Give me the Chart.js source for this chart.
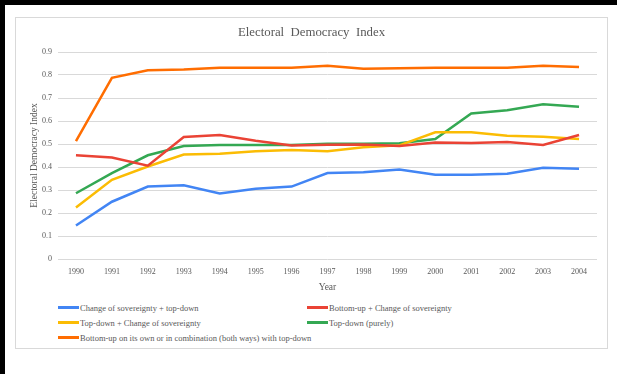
<!DOCTYPE html>
<html>
<head>
<meta charset="utf-8">
<script src="https://cdn.jsdelivr.net/npm/chart.js@4.4.1/dist/chart.umd.min.js"></script>
<style>
    body {
        margin: 0;
        width: 617px;
        height: 374px;
        background: #fff;
        position: relative;
        overflow: hidden;
        font-family: "Liberation Serif", "Times New Roman", serif;
    }
    .frame-top { position: absolute; left: 0; top: 0; width: 617px; height: 5px; background: #000; }
    .frame-left { position: absolute; left: 0; top: 0; width: 5px; height: 374px; background: #000; }
    #chartBox {
        position: absolute;
        left: 15px;
        top: 17px;
        width: 591px;
        height: 330px;
        border: 1px solid #d9d9d9;
    }
    #chartWrap {
        position: absolute;
        left: 0;
        top: 0;
        width: 591px;
        height: 282px;
    }
    #legend {
        position: absolute;
        left: 42px;
        top: 282px;
        display: grid;
        grid-template-columns: 249px 260px;
        font-size: 8.5px;
        color: #595959;
    }
    .legend-item { display: flex; align-items: center; height: 15px; white-space: nowrap; }
    .legend-line { flex: 0 0 auto; width: 21px; height: 3px; margin-right: 1px; }
</style>
</head>
<body>
<div class="frame-top"></div>
<div class="frame-left"></div>
<div id="chartBox">
    <div id="chartWrap"><canvas id="democracyChart"></canvas></div>
    <div id="legend"></div>
</div>
<script>
const years = ['1990', '1991', '1992', '1993', '1994', '1995', '1996', '1997', '1998', '1999', '2000', '2001', '2002', '2003', '2004'];

const sovereigntyTopDown = [0.146, 0.249, 0.315, 0.321, 0.285, 0.305, 0.315, 0.374, 0.377, 0.389, 0.366, 0.366, 0.371, 0.397, 0.392];
const bottomUpSovereignty = [0.451, 0.441, 0.406, 0.530, 0.539, 0.514, 0.494, 0.497, 0.498, 0.491, 0.507, 0.504, 0.509, 0.496, 0.539];
const topDownSovereignty = [0.224, 0.344, 0.402, 0.454, 0.458, 0.468, 0.474, 0.468, 0.486, 0.494, 0.551, 0.551, 0.536, 0.532, 0.522];
const topDownPurely = [0.286, 0.373, 0.451, 0.491, 0.496, 0.496, 0.496, 0.501, 0.501, 0.503, 0.522, 0.633, 0.647, 0.673, 0.662];
const bottomUpCombined = [0.513, 0.788, 0.821, 0.824, 0.832, 0.832, 0.832, 0.840, 0.827, 0.829, 0.831, 0.831, 0.831, 0.840, 0.835];

const seriesNames = [
    'Change of sovereignty + top-down',
    'Bottom-up + Change of sovereignty',
    'Top-down + Change of sovereignty',
    'Top-down (purely)',
    'Bottom-up on its own or in combination (both ways) with top-down'
];
const seriesColors = ['#4285f4', '#ea4335', '#fbbc04', '#34a853', '#ff6d01'];
const seriesValues = [sovereigntyTopDown, bottomUpSovereignty, topDownSovereignty, topDownPurely, bottomUpCombined];

const textColor = '#595959';
const serif = '"Liberation Serif", "Times New Roman", serif';

// title centred on the whole box, not on the padded layout area
const boxTitle = {
    id: 'boxTitle',
    afterDraw(chart, args, opts) {
        const ctx = chart.ctx;
        ctx.save();
        ctx.font = opts.size + 'px ' + serif;
        ctx.fillStyle = textColor;
        ctx.textAlign = 'center';
        ctx.textBaseline = 'middle';
        ctx.fillText(opts.text, chart.width / 2, opts.y);
        ctx.restore();
    }
};

const datasets = seriesNames.map((name, i) => ({
    label: name,
    data: seriesValues[i],
    borderColor: seriesColors[i],
    backgroundColor: seriesColors[i],
    borderWidth: 2.5,
    pointRadius: 0,
    tension: 0,
    fill: false
}));

const chartConfig = {
    type: 'line',
    data: {
        labels: years,
        datasets: datasets
    },
    options: {
        responsive: true,
        maintainAspectRatio: false,
        animation: false,
        layout: {
            padding: { top: 34, left: 0, right: 10, bottom: 0 }
        },
        plugins: {
            legend: { display: false },
            tooltip: { enabled: false },
            boxTitle: {
                text: 'Electoral  Democracy  Index',
                size: 12.8,
                y: 15
            }
        },
        scales: {
            x: {
                offset: true,
                grid: { display: false },
                border: { display: false },
                ticks: {
                    color: textColor,
                    font: { family: serif, size: 8 },
                    maxRotation: 0,
                    autoSkip: false,
                    padding: 0
                },
                title: {
                    display: true,
                    text: 'Year',
                    color: textColor,
                    font: { family: serif, size: 9.5 },
                    padding: { top: 0, bottom: 7 }
                },
                afterFit: (scale) => { scale.height = 41; }
            },
            y: {
                min: 0,
                max: 0.9,
                grid: { color: '#d9d9d9', drawTicks: false },
                border: { display: false },
                ticks: {
                    stepSize: 0.1,
                    color: textColor,
                    font: { family: serif, size: 8 },
                    padding: 6
                },
                title: {
                    display: true,
                    text: 'Electoral Democracy Index',
                    color: textColor,
                    font: { family: serif, size: 9.5 },
                    padding: { top: 13, bottom: 0 }
                },
                afterFit: (scale) => { scale.width = 42; }
            }
        }
    },
    plugins: [boxTitle]
};

const democracyChart = new Chart(document.getElementById('democracyChart'), chartConfig);

// legend built from the chart's own datasets, laid out in two columns
const legendEl = document.getElementById('legend');
democracyChart.data.datasets.forEach((ds) => {
    const item = document.createElement('div');
    item.className = 'legend-item';
    const line = document.createElement('span');
    line.className = 'legend-line';
    line.style.background = ds.borderColor;
    const label = document.createElement('span');
    label.textContent = ds.label;
    item.appendChild(line);
    item.appendChild(label);
    legendEl.appendChild(item);
});
</script>
</body>
</html>
